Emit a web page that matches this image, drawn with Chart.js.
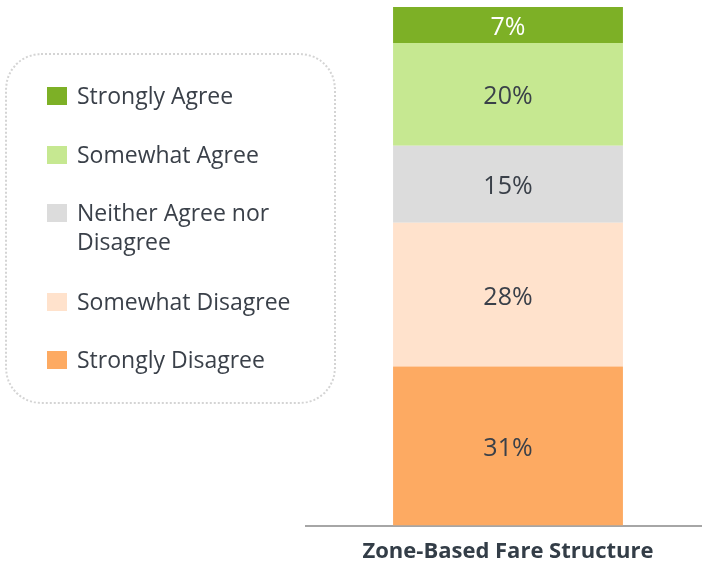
<!DOCTYPE html>
<html>
<head>
<meta charset="utf-8">
<script src="https://cdn.jsdelivr.net/npm/chart.js@4.4.1/dist/chart.umd.min.js"></script>
<style>
  html, body { margin: 0; padding: 0; background: #fff; overflow: hidden; }
  #wrap { position: relative; width: 702px; height: 563px; overflow: hidden; font-family: 'Open Sans', 'Noto Sans', sans-serif; }
  #chart { position: absolute; left: 0; top: 0; }
  #legend {
    position: absolute; left: 5px; top: 53px; width: 331px; height: 351px;
    border: 2px dotted #d4d4d4; border-radius: 36px; box-sizing: border-box;
  }
  .item { position: absolute; left: 40px; display: flex; align-items: flex-start; color: #3a4049; font-size: 23px; line-height: 29px; white-space: nowrap; }
  .sw { width: 20px; height: 18px; margin-right: 10px; margin-top: 6px; flex: none; }
</style>
</head>
<body>
<div id="wrap">
  <canvas id="chart" width="710" height="580"></canvas>
  <div id="legend"></div>
</div>
<script>
// ── Data (stack order: bottom → top) ─────────────────────────────────────────
const CATEGORIES = ['Zone-Based Fare Structure'];
const SERIES = ['Strongly Disagree', 'Somewhat Disagree', 'Neither Agree nor Disagree', 'Somewhat Agree', 'Strongly Agree'];
const VALUES = [31, 28, 15, 20, 7];
const COLORS = ['#fdaa62', '#ffe2cc', '#dcdcdc', '#c6e891', '#7db026'];
const LABEL_COLORS = ['#3a4049', '#3a4049', '#3a4049', '#3a4049', '#ffffff'];
const LEGEND_NAMES = ['Strongly Disagree', 'Somewhat Disagree', 'Neither Agree nor<br>Disagree', 'Somewhat Agree', 'Strongly Agree'];
const LEGEND_ROW_Y = [360, 302, 213, 155, 96]; // centre of first text line, page coords

const TOTAL = VALUES.reduce((a, b) => a + b, 0);

// ── Segment labels plugin ────────────────────────────────────────────────────
const segLabels = {
  id: 'segLabels',
  afterDatasetsDraw(chart) {
    const ctx = chart.ctx;
    ctx.save();
    ctx.font = "25px 'Open Sans', 'Noto Sans', sans-serif";
    ctx.textAlign = 'center';
    ctx.textBaseline = 'middle';
    chart.data.datasets.forEach((ds, i) => {
      const el = chart.getDatasetMeta(i).data[0];
      ctx.fillStyle = LABEL_COLORS[i];
      ctx.fillText(ds.data[0] + '%', el.x, (el.y + el.base) / 2 + 3);
    });
    ctx.restore();
  }
};

const chart = new Chart(document.getElementById('chart'), {
  type: 'bar',
  data: {
    labels: CATEGORIES,
    datasets: SERIES.map((s, i) => ({
      label: s,
      data: [VALUES[i]],
      backgroundColor: COLORS[i],
      borderWidth: 0,
      barPercentage: 0.569,
      categoryPercentage: 1,
    })),
  },
  options: {
    responsive: false,
    animation: false,
    layout: { padding: { left: 306, top: 7, right: 0, bottom: 2 } },
    plugins: { legend: { display: false }, tooltip: { enabled: false } },
    scales: {
      x: {
        stacked: true,
        grid: { display: false, drawTicks: false },
        border: { display: true, color: '#a6a6a6', width: 2 },
        ticks: {
          color: '#333d47',
          font: { family: "'Open Sans', 'Noto Sans', sans-serif", size: 22, weight: 'bold' },
          padding: 13,
        },
      },
      y: { stacked: true, display: false, min: 0, max: TOTAL },
    },
  },
  plugins: [segLabels],
});

// ── HTML legend (top → bottom, reverse of stack) ─────────────────────────────
const legend = document.getElementById('legend');
for (let i = SERIES.length - 1; i >= 0; i--) {
  const row = document.createElement('div');
  row.className = 'item';
  row.style.top = (LEGEND_ROW_Y[i] - 55 - 15) + 'px';
  row.innerHTML = `<span class="sw" style="background:${COLORS[i]}"></span><span>${LEGEND_NAMES[i]}</span>`;
  legend.appendChild(row);
}
</script>
</body>
</html>
